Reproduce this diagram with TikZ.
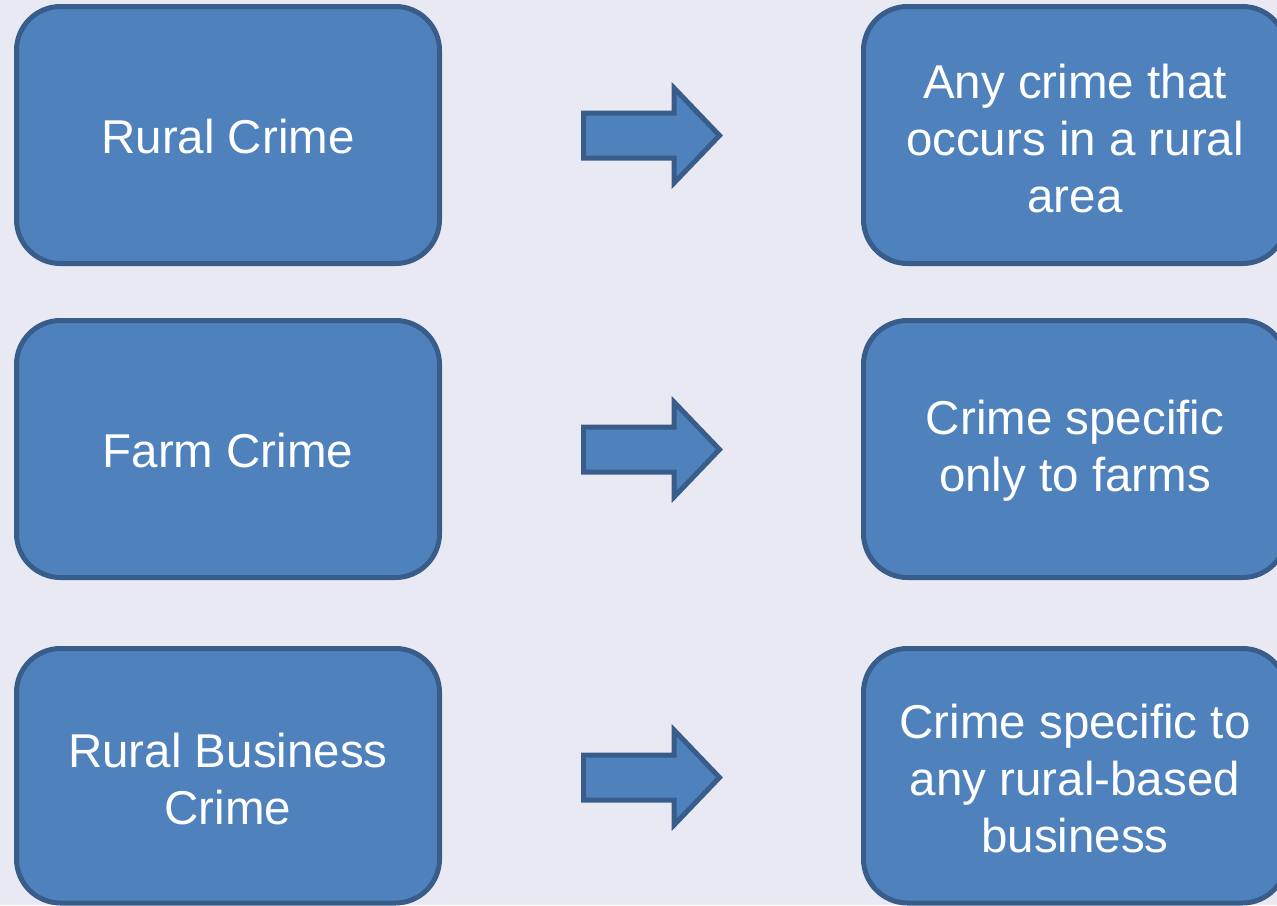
\documentclass[tikz,border=0pt]{standalone}
\usepackage{fontspec}
\setmainfont{Liberation Sans}
\definecolor{bg}{RGB}{233,233,243}
\definecolor{boxfill}{RGB}{79,129,189}
\definecolor{boxline}{RGB}{56,93,138}
\tikzset{
  termbox/.style={draw=boxline, fill=boxfill, line width=5pt, rounded corners=44pt},
  termtext/.style={text=white, align=center, font=\fontsize{47.5pt}{57pt}\selectfont},
  blockarrow/.style={draw=boxline, fill=boxfill, line width=5pt, line join=miter},
}
\begin{document}
\begin{tikzpicture}[x=1pt,y=-1pt]
\useasboundingbox (0,0) rectangle (1277,905);
\fill[bg] (0,0) rectangle (1277,905);
\clip (0,0) rectangle (1277,905);
% left boxes
\draw[termbox] (16.5,6.5) rectangle (439.5,263.5);
\draw[termbox] (16.5,320.5) rectangle (439.5,577.5);
\draw[termbox] (16.5,648.5) rectangle (439.5,903);
% right boxes
\draw[termbox] (863.5,6.5) rectangle (1286.5,263.5);
\draw[termbox] (863.5,320.5) rectangle (1286.5,577.5);
\draw[termbox] (863.5,648.5) rectangle (1286.5,903);
% texts
\node[termtext] (l1) at (228,137) {Rural Crime};
\node[termtext] (l2) at (228,451) {Farm Crime};
\node[termtext] (l3) at (228,779) {Rural Business\\Crime};
\node[termtext] (r1) at (1075,139) {Any crime that\\occurs in a rural\\area};
\node[termtext] (r2) at (1075,451) {Crime specific\\only to farms};
\node[termtext] (r3) at (1075,779) {Crime specific to\\any rural-based\\business};
% arrows
\foreach \cy in {135.5,449.5,777.5}{
  \draw[blockarrow] (583.5,\cy-22.5) -- (674,\cy-22.5) -- (674,\cy-47.5) -- (719.5,\cy) -- (674,\cy+47.5) -- (674,\cy+22.5) -- (583.5,\cy+22.5) -- cycle;
}
\end{tikzpicture}
\end{document}
